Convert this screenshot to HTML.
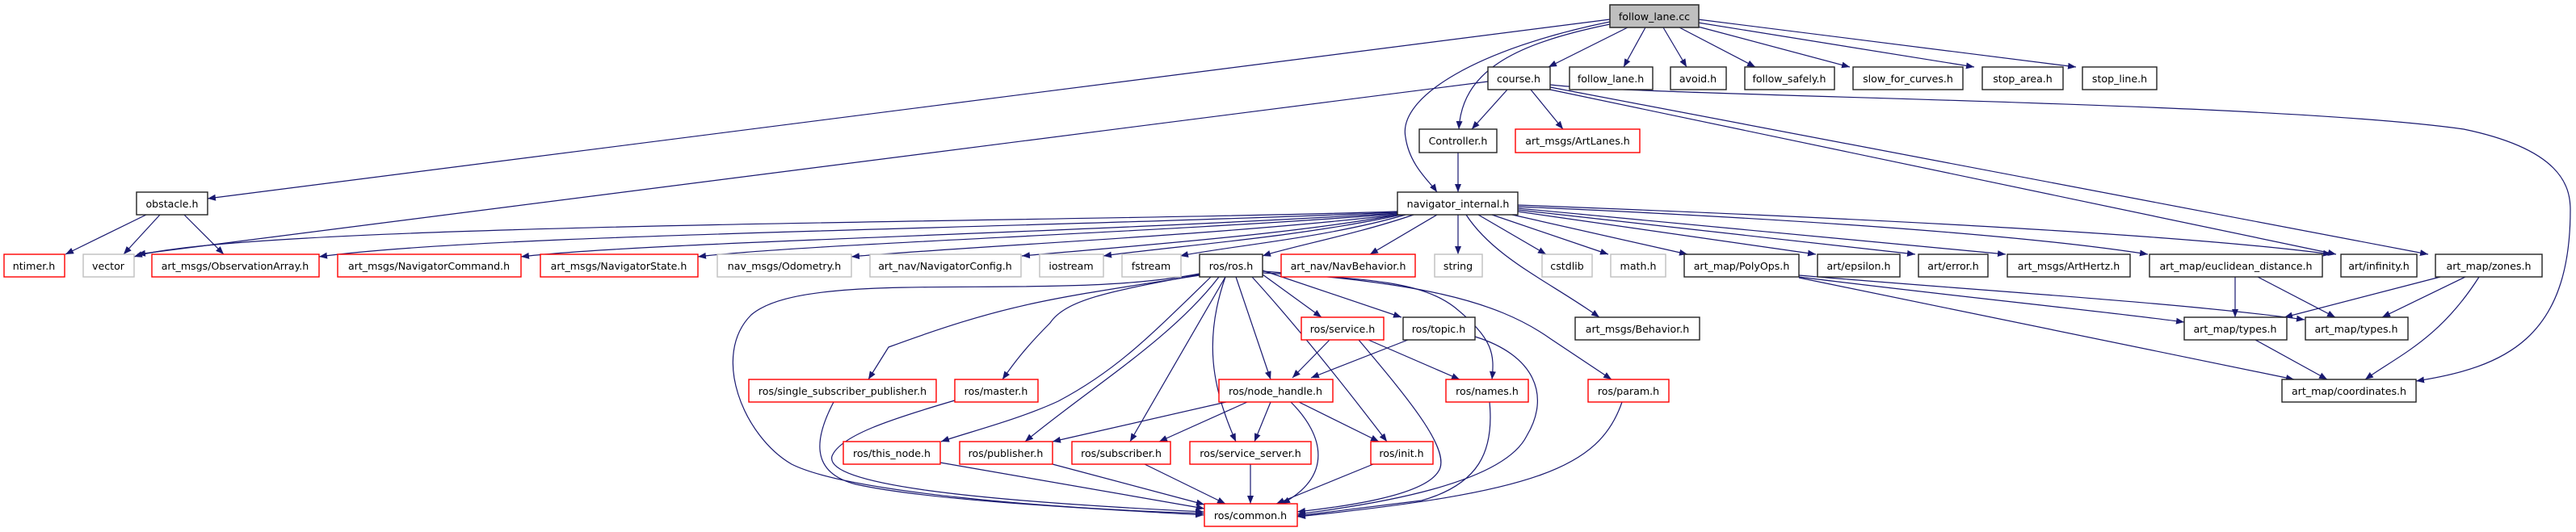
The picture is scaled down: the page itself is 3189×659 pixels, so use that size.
<!DOCTYPE html>
<html><head><meta charset="utf-8"><style>
html,body{margin:0;padding:0;background:#fff;width:3189px;height:659px;overflow:hidden}
svg{display:block}
text{font-family:"DejaVu Sans","Liberation Sans",sans-serif;font-size:12.6px;fill:#000;text-anchor:middle}
.b{fill:#fff;stroke:#222;stroke-width:1.4}
.r{fill:#fff;stroke:#ff0000;stroke-width:1.4}
.g{fill:#fff;stroke:#bfbfbf;stroke-width:1.4}
.e path{fill:none;stroke:#191970;stroke-width:1.2;marker-end:url(#a)}
</style></head><body>
<svg width="3189" height="659" viewBox="0 0 3189 659" xmlns="http://www.w3.org/2000/svg">
<defs><marker id="a" markerUnits="userSpaceOnUse" markerWidth="11" markerHeight="8" refX="10" refY="4" orient="auto"><path d="M0,0 L10,4 L0,8 z" fill="#191970"/></marker></defs>
<g class="e">
<!-- follow_lane.cc -->
<path d="M1993,24 L257,246"/>
<path d="M2015,34 L1917,83"/>
<path d="M2037,34 L2010,83"/>
<path d="M2059,34 L2088,83"/>
<path d="M2079,34 L2173,83"/>
<path d="M2102,33 L2290,83"/>
<path d="M2102,28 L2444,83"/>
<path d="M2102,24 L2570,83"/>
<path d="M1993,30 C1870,55 1810,90 1806,160"/>
<path d="M1993,27 C1830,60 1730,120 1740,170 C1745,205 1770,225 1779,238"/>
<!-- course.h -->
<path d="M1842,101 L170,315"/>
<path d="M1866,111 L1822,160"/>
<path d="M1895,111 L1935,160"/>
<path d="M1919,111 L2892,315"/>
<path d="M1919,108 L3006,315"/>
<path d="M1919,105 C2050,120 2800,125 3050,160 C3170,185 3182,230 3182,260 C3182,420 3100,455 2991,472"/>
<path d="M1805,189 L1805,238"/>
<!-- navigator_internal.h -->
<path d="M1730,262 C1300,276 300,276 166,318"/>
<path d="M1730,263 C1200,285 600,290 395,318"/>
<path d="M1730,264 C1300,290 800,300 645,318"/>
<path d="M1730,265 C1400,290 1000,302 864,318"/>
<path d="M1730,266 C1500,292 1200,305 1054,318"/>
<path d="M1730,266 C1600,290 1400,305 1265,317"/>
<path d="M1735,266 C1600,295 1450,305 1366,317"/>
<path d="M1740,266 C1640,295 1520,305 1461,317"/>
<path d="M1750,266 C1680,290 1600,305 1563,317"/>
<path d="M1779,266 L1696,315"/>
<path d="M1805,266 L1805,315"/>
<path d="M1815,266 C1850,320 1920,350 1980,393"/>
<path d="M1830,266 L1914,315"/>
<path d="M1847,266 L1991,315"/>
<path d="M1872,266 L2089,315"/>
<path d="M1879,262 L2248,315"/>
<path d="M1879,260 L2371,315"/>
<path d="M1879,258 L2483,315"/>
<path d="M1879,256 C2200,270 2500,290 2659,315"/>
<path d="M1879,254 C2300,270 2700,290 2886,315"/>
<!-- obstacle.h -->
<path d="M181,266 L81,315"/>
<path d="M198,266 L153,315"/>
<path d="M228,266 L277,315"/>
<!-- ros/ros.h -->
<path d="M1485,341 C1300,370 1250,375 1100,430 L1075,470"/>
<path d="M1485,340 C1380,360 1320,370 1300,400 C1270,430 1255,450 1241,470"/>
<path d="M1499,343 C1420,420 1380,460 1310,497 C1260,520 1200,535 1165,547"/>
<path d="M1509,343 C1450,420 1350,480 1269,547"/>
<path d="M1517,343 L1399,547"/>
<path d="M1517,343 C1490,420 1500,480 1530,547"/>
<path d="M1530,343 L1573,470"/>
<path d="M1485,339 C1300,375 1000,330 930,390 C880,440 920,540 980,575 C1050,610 1300,630 1490,636"/>
<path d="M1563,340 L1636,393"/>
<path d="M1563,335 L1735,393"/>
<path d="M1563,338 C1700,345 1760,350 1800,380 C1850,420 1850,440 1847,470"/>
<path d="M1563,336 C1750,350 1850,370 1920,420 L1995,470"/>
<path d="M1550,343 Q1620,420 1717,547"/>
<!-- service / topic -->
<path d="M1646,421 L1600,468"/>
<path d="M1694,421 L1807,470"/>
<path d="M1682,421 C1740,490 1800,560 1780,585 C1760,615 1660,628 1606,634"/>
<path d="M1743,421 L1623,468"/>
<path d="M1826,417 C1900,440 1920,490 1890,540 C1860,600 1700,625 1606,637"/>
<path d="M1844,498 C1850,560 1830,600 1760,620 L1606,639"/>
<path d="M2008,498 C1980,580 1900,610 1606,640"/>
<!-- node_handle -->
<path d="M1518,498 L1303,547"/>
<path d="M1544,498 L1435,547"/>
<path d="M1573,498 L1553,547"/>
<path d="M1608,498 L1707,547"/>
<path d="M1598,498 C1640,540 1650,590 1587,624"/>
<!-- to common -->
<path d="M1032,498 C1010,540 1000,585 1060,600 C1150,620 1350,630 1490,638"/>
<path d="M1182,496 C1100,520 1040,540 1030,565 C1020,600 1200,620 1490,634"/>
<path d="M1164,573 L1491,630"/>
<path d="M1303,575 L1491,625"/>
<path d="M1417,575 L1517,624"/>
<path d="M1548,575 L1548,624"/>
<path d="M1700,575 L1580,624"/>
<!-- art_map -->
<path d="M2767,343 L2767,393"/>
<path d="M2795,343 L2891,393"/>
<path d="M3021,343 L2828,393"/>
<path d="M3052,343 L2949,393"/>
<path d="M3069,343 C3020,420 2970,440 2928,470"/>
<path d="M2792,421 L2881,470"/>
<path d="M2227,343 C2400,365 2600,385 2704,399"/>
<path d="M2227,341 C2450,360 2700,375 2853,396"/>
<path d="M2227,344 L2840,470"/>
</g>
<g>
<rect x="1993" y="6" width="110" height="28" fill="#bfbfbf" stroke="#333" stroke-width="1.6"/><text x="2048" y="25">follow_lane.cc</text>
<rect class="b" x="1842" y="83" width="77" height="28"/><text x="1880" y="102">course.h</text>
<rect class="b" x="1943" y="83" width="103" height="28"/><text x="1994" y="102">follow_lane.h</text>
<rect class="b" x="2068" y="83" width="69" height="28"/><text x="2102" y="102">avoid.h</text>
<rect class="b" x="2160" y="83" width="111" height="28"/><text x="2215" y="102">follow_safely.h</text>
<rect class="b" x="2294" y="83" width="136" height="28"/><text x="2362" y="102">slow_for_curves.h</text>
<rect class="b" x="2454" y="83" width="100" height="28"/><text x="2504" y="102">stop_area.h</text>
<rect class="b" x="2578" y="83" width="92" height="28"/><text x="2624" y="102">stop_line.h</text>
<rect class="b" x="1757" y="160" width="96" height="29"/><text x="1805" y="179">Controller.h</text>
<rect class="r" x="1876" y="160" width="154" height="29"/><text x="1953" y="179">art_msgs/ArtLanes.h</text>
<rect class="b" x="169" y="238" width="88" height="28"/><text x="213" y="257">obstacle.h</text>
<rect class="b" x="1730" y="238" width="149" height="28"/><text x="1805" y="257">navigator_internal.h</text>

<rect class="r" x="5" y="315" width="75" height="28"/><text x="42" y="334">ntimer.h</text>
<rect class="g" x="103" y="315" width="63" height="28"/><text x="134" y="334">vector</text>
<rect class="r" x="188" y="315" width="207" height="28"/><text x="291" y="334">art_msgs/ObservationArray.h</text>
<rect class="r" x="418" y="315" width="227" height="28"/><text x="531" y="334">art_msgs/NavigatorCommand.h</text>
<rect class="r" x="669" y="315" width="195" height="28"/><text x="766" y="334">art_msgs/NavigatorState.h</text>
<rect class="g" x="888" y="315" width="166" height="28"/><text x="971" y="334">nav_msgs/Odometry.h</text>
<rect class="g" x="1077" y="315" width="187" height="28"/><text x="1170" y="334">art_nav/NavigatorConfig.h</text>
<rect class="g" x="1287" y="315" width="79" height="28"/><text x="1326" y="334">iostream</text>
<rect class="g" x="1389" y="315" width="73" height="28"/><text x="1425" y="334">fstream</text>
<rect class="b" x="1485" y="315" width="78" height="28"/><text x="1524" y="334">ros/ros.h</text>
<rect class="r" x="1586" y="315" width="166" height="28"/><text x="1669" y="334">art_nav/NavBehavior.h</text>
<rect class="g" x="1776" y="315" width="59" height="28"/><text x="1805" y="334">string</text>
<rect class="g" x="1909" y="315" width="62" height="28"/><text x="1940" y="334">cstdlib</text>
<rect class="g" x="1994" y="315" width="68" height="28"/><text x="2028" y="334">math.h</text>
<rect class="b" x="2085" y="315" width="142" height="28"/><text x="2156" y="334">art_map/PolyOps.h</text>
<rect class="b" x="2250" y="315" width="102" height="28"/><text x="2301" y="334">art/epsilon.h</text>
<rect class="b" x="2375" y="315" width="86" height="28"/><text x="2418" y="334">art/error.h</text>
<rect class="b" x="2485" y="315" width="152" height="28"/><text x="2561" y="334">art_msgs/ArtHertz.h</text>
<rect class="b" x="2661" y="315" width="214" height="28"/><text x="2768" y="334">art_map/euclidean_distance.h</text>
<rect class="b" x="2898" y="315" width="94" height="28"/><text x="2945" y="334">art/infinity.h</text>
<rect class="b" x="3015" y="315" width="132" height="28"/><text x="3081" y="334">art_map/zones.h</text>

<rect class="r" x="1611" y="393" width="102" height="28"/><text x="1662" y="412">ros/service.h</text>
<rect class="b" x="1737" y="393" width="89" height="28"/><text x="1781" y="412">ros/topic.h</text>
<rect class="b" x="1950" y="393" width="154" height="28"/><text x="2027" y="412">art_msgs/Behavior.h</text>
<rect class="b" x="2704" y="393" width="127" height="28"/><text x="2767" y="412">art_map/types.h</text>
<rect class="b" x="2854" y="393" width="127" height="28"/><text x="2917" y="412">art_map/types.h</text>

<rect class="r" x="927" y="470" width="232" height="28"/><text x="1043" y="489">ros/single_subscriber_publisher.h</text>
<rect class="r" x="1182" y="470" width="103" height="28"/><text x="1233" y="489">ros/master.h</text>
<rect class="r" x="1509" y="470" width="141" height="28"/><text x="1579" y="489">ros/node_handle.h</text>
<rect class="r" x="1790" y="470" width="102" height="28"/><text x="1841" y="489">ros/names.h</text>
<rect class="r" x="1966" y="470" width="100" height="28"/><text x="2016" y="489">ros/param.h</text>
<rect class="b" x="2825" y="470" width="166" height="28"/><text x="2908" y="489">art_map/coordinates.h</text>

<rect class="r" x="1044" y="547" width="120" height="28"/><text x="1104" y="566">ros/this_node.h</text>
<rect class="r" x="1188" y="547" width="115" height="28"/><text x="1245" y="566">ros/publisher.h</text>
<rect class="r" x="1327" y="547" width="122" height="28"/><text x="1388" y="566">ros/subscriber.h</text>
<rect class="r" x="1473" y="547" width="150" height="28"/><text x="1548" y="566">ros/service_server.h</text>
<rect class="r" x="1697" y="547" width="77" height="28"/><text x="1735" y="566">ros/init.h</text>
<rect class="r" x="1491" y="624" width="115" height="28"/><text x="1548" y="643">ros/common.h</text>
</g>
</svg>
</body></html>
